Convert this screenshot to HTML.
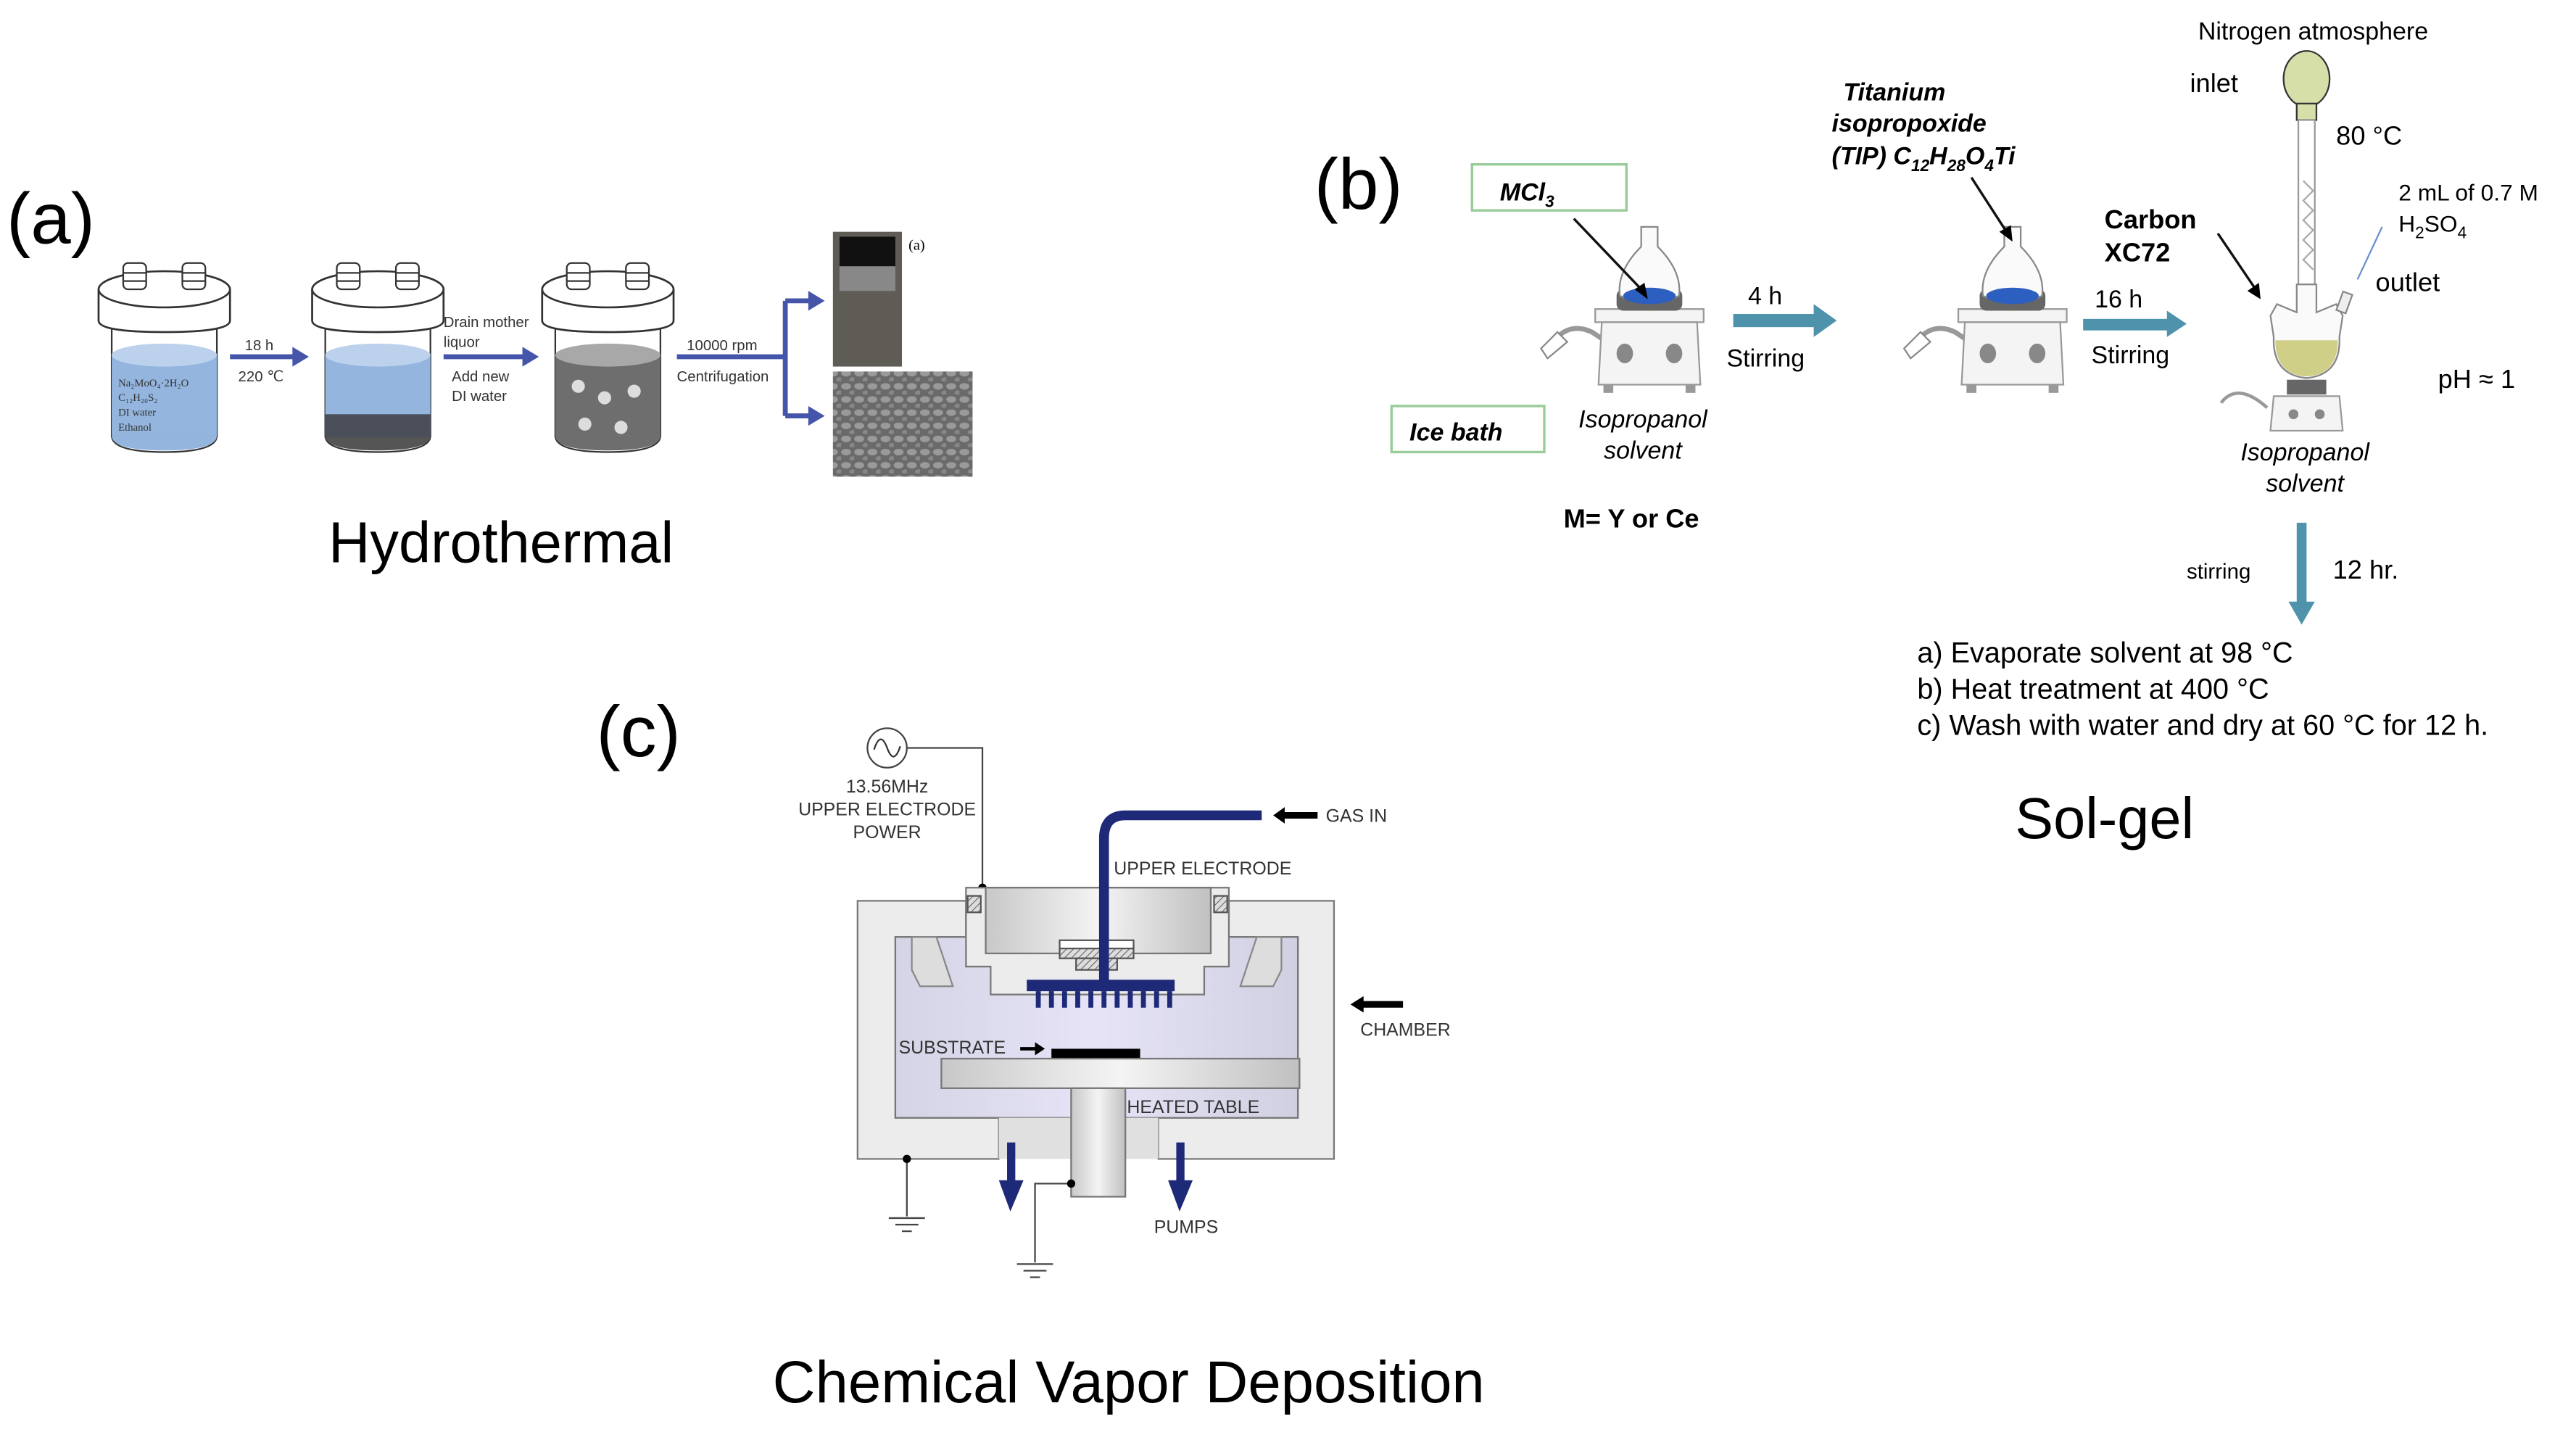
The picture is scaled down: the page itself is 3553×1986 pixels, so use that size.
<!DOCTYPE html>
<html><head><meta charset="utf-8"><style>
html,body{margin:0;padding:0;background:#fff;}
svg{display:block;}
text{font-family:"Liberation Sans",sans-serif;}
.serif{font-family:"Liberation Serif",serif;}
</style></head><body>
<svg width="3553" height="1986" viewBox="0 0 1568 876" preserveAspectRatio="none" xmlns="http://www.w3.org/2000/svg">
<defs>
<linearGradient id="metal" x1="0" x2="1"><stop offset="0" stop-color="#c8c8c8"/><stop offset="0.5" stop-color="#f4f4f4"/><stop offset="1" stop-color="#c0c0c0"/></linearGradient>
<linearGradient id="plasma" x1="0" x2="1"><stop offset="0" stop-color="#d4d4e6"/><stop offset="0.5" stop-color="#e6e4f6"/><stop offset="1" stop-color="#d0d0e2"/></linearGradient>
<pattern id="hatch" width="3" height="3" patternUnits="userSpaceOnUse" patternTransform="rotate(45)"><rect width="3" height="3" fill="#ddd"/><line x1="0" y1="0" x2="0" y2="3" stroke="#666" stroke-width="1"/></pattern>
<pattern id="sem" width="8" height="8" patternUnits="userSpaceOnUse"><rect width="8" height="8" fill="#6a6a6a"/><ellipse cx="3" cy="3" rx="3" ry="2" fill="#9a9a9a"/><ellipse cx="7" cy="7" rx="2" ry="1.5" fill="#888"/></pattern>
<g id="jar">
  <rect x="8" y="195" width="64" height="70" fill="#fff" stroke="#333" stroke-width="1"/>
  <path d="M8 265 Q8 275 40 275 Q72 275 72 265" fill="#fff" stroke="#333"/>
  <path d="M0 176 L0 195 Q0 202 40 202 Q80 202 80 195 L80 176" fill="#fff" stroke="#333" stroke-width="1.2"/>
  <ellipse cx="40" cy="176" rx="40" ry="11" fill="#fff" stroke="#333" stroke-width="1.2"/>
  <rect x="15" y="160" width="14" height="16" rx="3" fill="#fff" stroke="#333"/>
  <rect x="51" y="160" width="14" height="16" rx="3" fill="#fff" stroke="#333"/>
  <line x1="15" y1="166" x2="29" y2="166" stroke="#333"/><line x1="51" y1="166" x2="65" y2="166" stroke="#333"/>
  <line x1="15" y1="171" x2="29" y2="171" stroke="#333"/><line x1="51" y1="171" x2="65" y2="171" stroke="#333"/>
</g>
<g id="stirrer">
  <path d="M-60 60 Q-50 45 -35 52 Q-20 62 -10 68" fill="none" stroke="#999" stroke-width="3"/>
  <path d="M-66 62 L-56 52 L-50 58 L-62 68 Z" fill="#fff" stroke="#888"/>
  <rect x="-33" y="38" width="66" height="8" fill="#f4f4f4" stroke="#999"/>
  <path d="M-29 46 L29 46 L31 84 L-31 84 Z" fill="#f4f4f4" stroke="#999"/>
  <ellipse cx="-15" cy="65" rx="5" ry="6" fill="#888"/><ellipse cx="15" cy="65" rx="5" ry="6" fill="#888"/>
  <rect x="-28" y="84" width="6" height="5" fill="#999"/><rect x="22" y="84" width="6" height="5" fill="#999"/>
  <rect x="-20" y="26" width="40" height="13" rx="4" fill="#666"/>
  <path d="M-5 0 L-5 -12 L5 -12 L5 0 Q20 15 18 30 Q0 38 -18 30 Q-20 15 -5 0 Z" fill="#fafafa" stroke="#888"/>
  <ellipse cx="0" cy="30" rx="16" ry="5" fill="#2c5fc0"/>
</g>
</defs>

<!-- (a) Hydrothermal -->
<text x="4" y="148" font-size="44">(a)</text>
<use href="#jar" x="60" y="0"/>
<rect x="68" y="215" width="64" height="50" fill="#93b5de"/>
<path d="M68 265 Q68 274 100 274 Q132 274 132 265" fill="#93b5de"/>
<ellipse cx="100" cy="216" rx="32" ry="7" fill="#bcd2ec"/>
<text class="serif" x="72" y="235" font-size="6.5" fill="#333">Na₂MoO₄·2H₂O</text>
<text class="serif" x="72" y="244" font-size="6.5" fill="#333">C₁₂H₂₀S₂</text>
<text class="serif" x="72" y="253" font-size="6.5" fill="#333">DI water</text>
<text class="serif" x="72" y="262" font-size="6.5" fill="#333">Ethanol</text>
<use href="#jar" x="190" y="0"/>
<rect x="198" y="215" width="64" height="50" fill="#93b5de"/>
<path d="M198 265 Q198 274 230 274 Q262 274 262 265" fill="#555"/>
<rect x="198" y="252" width="64" height="14" fill="#4a4f5a"/>
<ellipse cx="230" cy="216" rx="32" ry="7" fill="#bcd2ec"/>
<use href="#jar" x="330" y="0"/>
<rect x="338" y="215" width="64" height="50" fill="#6e6e6e"/>
<path d="M338 265 Q338 274 370 274 Q402 274 402 265" fill="#6e6e6e"/>
<ellipse cx="370" cy="216" rx="32" ry="7" fill="#a8a8a8"/>
<g fill="#ddd"><circle cx="352" cy="235" r="4"/><circle cx="368" cy="242" r="4"/><circle cx="386" cy="238" r="4"/><circle cx="356" cy="258" r="4"/><circle cx="378" cy="260" r="4"/></g>
<g stroke="#4455aa" stroke-width="3" fill="#4455aa">
<line x1="140" y1="217" x2="180" y2="217"/><path d="M178 211 L188 217 L178 223Z" stroke="none"/>
<line x1="270" y1="217" x2="320" y2="217"/><path d="M318 211 L328 217 L318 223Z" stroke="none"/>
<line x1="412" y1="217" x2="478" y2="217"/><line x1="478" y1="183" x2="478" y2="253"/>
<line x1="478" y1="183" x2="494" y2="183"/><path d="M492 177 L502 183 L492 189Z" stroke="none"/>
<line x1="478" y1="253" x2="494" y2="253"/><path d="M492 247 L502 253 L492 259Z" stroke="none"/>
</g>
<g class="serif" font-size="9" fill="#333">
<text x="149" y="213">18 h</text><text x="145" y="232">220 ℃</text>
<text x="270" y="199">Drain mother</text><text x="270" y="211">liquor</text>
<text x="275" y="232">Add new</text><text x="275" y="244">DI water</text>
<text x="418" y="213">10000 rpm</text><text x="412" y="232">Centrifugation</text>
</g>
<rect x="507" y="141" width="42" height="82" fill="#5f5c55"/>
<rect x="511" y="144" width="34" height="18" fill="#111"/>
<rect x="511" y="162" width="34" height="15" fill="#888"/>
<text class="serif" x="553" y="152" font-size="9">(a)</text>
<rect x="507" y="226" width="85" height="64" fill="url(#sem)"/>
<text x="305" y="342" font-size="35" text-anchor="middle">Hydrothermal</text>

<!-- (b) Sol-gel -->
<text x="800" y="127" font-size="44">(b)</text>
<rect x="896" y="100" width="94" height="28" fill="#fff" stroke="#9c9" stroke-width="1.5"/>
<text x="913" y="122" font-size="15" font-weight="bold" font-style="italic">MCl<tspan font-size="10" dy="4">3</tspan></text>
<rect x="847" y="247" width="93" height="28" fill="#fff" stroke="#9c9" stroke-width="1.5"/>
<text x="858" y="268" font-size="15" font-weight="bold" font-style="italic">Ice bath</text>
<use href="#stirrer" x="1004" y="150"/>
<line x1="958" y1="133" x2="1000" y2="177" stroke="#111" stroke-width="1.5"/><path d="M995 176 L1003 182 L1001 172Z"/>
<text x="1000" y="260" font-size="15" font-style="italic" text-anchor="middle">Isopropanol</text>
<text x="1000" y="279" font-size="15" font-style="italic" text-anchor="middle">solvent</text>
<text x="993" y="321" font-size="16" font-weight="bold" text-anchor="middle">M= Y or Ce</text>
<rect x="1055" y="191" width="50" height="8" fill="#4e93ab"/><path d="M1104 185 L1118 195 L1104 205Z" fill="#4e93ab"/>
<text x="1064" y="185" font-size="15">4 h</text><text x="1051" y="223" font-size="15">Stirring</text>
<use href="#stirrer" x="1225" y="150"/>
<text x="1122" y="61" font-size="15" font-weight="bold" font-style="italic">Titanium</text>
<text x="1115" y="80" font-size="15" font-weight="bold" font-style="italic">isopropoxide</text>
<text x="1115" y="100" font-size="15" font-weight="bold" font-style="italic">(TIP)  C<tspan font-size="10" dy="4">12</tspan><tspan dy="-4">H</tspan><tspan font-size="10" dy="4">28</tspan><tspan dy="-4">O</tspan><tspan font-size="10" dy="4">4</tspan><tspan dy="-4">Ti</tspan></text>
<line x1="1200" y1="108" x2="1222" y2="142" stroke="#111" stroke-width="1.5"/><path d="M1217 141 L1225 147 L1224 137Z"/>
<rect x="1268" y="194" width="52" height="7" fill="#4e93ab"/><path d="M1319 189 L1331 197 L1319 205Z" fill="#4e93ab"/>
<text x="1275" y="187" font-size="15">16 h</text><text x="1273" y="221" font-size="15">Stirring</text>
<!-- reflux setup -->
<text x="1338" y="24" font-size="15">Nitrogen atmosphere</text>
<text x="1333" y="56" font-size="16">inlet</text>
<ellipse cx="1404" cy="48" rx="14" ry="17" fill="#d6dfa8" stroke="#333"/>
<rect x="1398" y="63" width="12" height="10" fill="#d6dfa8" stroke="#333"/>
<rect x="1399" y="73" width="10" height="100" fill="#fff" stroke="#999"/>
<path d="M1402 110 l6 6 l-6 6 l6 6 l-6 6 l6 6 l-6 6 l6 6 l-6 6 l6 6" fill="none" stroke="#aaa"/>
<text x="1422" y="88" font-size="16">80 °C</text>
<text x="1460" y="122" font-size="14">2 mL of 0.7 M</text>
<text x="1460" y="141" font-size="14">H<tspan font-size="10" dy="4">2</tspan><tspan dy="-4">SO</tspan><tspan font-size="10" dy="4">4</tspan></text>
<line x1="1450" y1="138" x2="1435" y2="170" stroke="#6a8fd0"/>
<text x="1446" y="177" font-size="16">outlet</text>
<text x="1281" y="139" font-size="16" font-weight="bold">Carbon</text>
<text x="1281" y="159" font-size="16" font-weight="bold">XC72</text>
<line x1="1350" y1="142" x2="1373" y2="176" stroke="#111" stroke-width="1.5"/><path d="M1368 177 L1376 182 L1375 172Z"/>
<path d="M1398 173 L1398 190 L1386 185 L1382 192 L1384 205 Q1383 228 1404 230 Q1425 228 1424 205 L1426 192 L1422 185 L1410 190 L1410 173Z" fill="#fafafa" stroke="#888"/>
<path d="M1385 207 Q1385 228 1404 229 Q1423 228 1423 207 Z" fill="#cfcf88"/>
<rect x="1424" y="178" width="6" height="12" fill="#eee" stroke="#888" transform="rotate(20 1427 184)"/>
<rect x="1392" y="231" width="24" height="9" fill="#666"/>
<path d="M1384 241 L1424 241 L1426 262 L1382 262 Z" fill="#f4f4f4" stroke="#999"/>
<circle cx="1396" cy="252" r="3" fill="#888"/><circle cx="1412" cy="252" r="3" fill="#888"/>
<path d="M1352 245 Q1362 232 1380 248" fill="none" stroke="#999" stroke-width="2"/>
<text x="1484" y="236" font-size="16">pH ≈ 1</text>
<text x="1403" y="280" font-size="15" font-style="italic" text-anchor="middle">Isopropanol</text>
<text x="1403" y="299" font-size="15" font-style="italic" text-anchor="middle">solvent</text>
<rect x="1398" y="318" width="6" height="50" fill="#4e93ab"/><path d="M1393 366 L1409 366 L1401 380Z" fill="#4e93ab"/>
<text x="1331" y="352" font-size="13">stirring</text>
<text x="1420" y="352" font-size="16">12 hr.</text>
<text x="1167" y="403" font-size="17.5">a)  Evaporate solvent at 98 °C</text>
<text x="1167" y="425" font-size="17.5">b)  Heat treatment at 400 °C</text>
<text x="1167" y="447" font-size="17.5">c)  Wash with water and dry at 60 °C for 12 h.</text>
<text x="1281" y="510" font-size="35" text-anchor="middle">Sol-gel</text>

<!-- (c) CVD -->
<text x="363" y="460" font-size="44">(c)</text>
<circle cx="540" cy="455" r="12" fill="#fff" stroke="#444"/>
<path d="M532 456 Q536 444 540 455 Q544 466 548 454" fill="none" stroke="#333"/>
<polyline points="552,455 598,455 598,540" fill="none" stroke="#444"/>
<circle cx="598" cy="540" r="2.5"/>
<text x="540" y="482" font-size="11" text-anchor="middle" fill="#333">13.56MHz</text>
<text x="540" y="496" font-size="11" text-anchor="middle" fill="#333">UPPER ELECTRODE</text>
<text x="540" y="510" font-size="11" text-anchor="middle" fill="#333">POWER</text>
<path d="M522 548 L588 548 L588 570 L545 570 L545 680 L608 680 L608 705 L522 705 Z" fill="#ececec" stroke="#777"/>
<path d="M748 548 L812 548 L812 705 L705 705 L705 680 L790 680 L790 570 L748 570 Z" fill="#ececec" stroke="#777"/>
<rect x="545" y="570" width="245" height="110" fill="url(#plasma)" stroke="#777"/>
<path d="M555 570 L555 590 L560 600 L580 600 L570 570 Z" fill="#ddd" stroke="#888"/>
<path d="M780 570 L780 590 L775 600 L755 600 L765 570 Z" fill="#ddd" stroke="#888"/>
<rect x="608" y="680" width="97" height="25" fill="#e0e0e0"/>
<path d="M588 540 L748 540 L748 588 L733 588 L733 605 L603 605 L603 588 L588 588 Z" fill="#ececec" stroke="#777"/>
<rect x="600" y="540" width="137" height="40" fill="url(#metal)" stroke="#777"/>
<rect x="589" y="545" width="8" height="10" fill="url(#hatch)" stroke="#555"/>
<rect x="739" y="545" width="8" height="10" fill="url(#hatch)" stroke="#555"/>
<rect x="645" y="572" width="45" height="5" fill="#fff" stroke="#555"/>
<rect x="645" y="577" width="45" height="6" fill="url(#hatch)" stroke="#555"/>
<rect x="655" y="583" width="25" height="7" fill="url(#hatch)" stroke="#555"/>
<path d="M768 496 L685 496 Q672 496 672 510 L672 598" fill="none" stroke="#1e2a78" stroke-width="6"/>
<rect x="625" y="596" width="90" height="7" fill="#1e2a78"/>
<g stroke="#1e2a78" stroke-width="3"><line x1="632" y1="603" x2="632" y2="613"/><line x1="640" y1="603" x2="640" y2="613"/><line x1="648" y1="603" x2="648" y2="613"/><line x1="656" y1="603" x2="656" y2="613"/><line x1="664" y1="603" x2="664" y2="613"/><line x1="672" y1="603" x2="672" y2="613"/><line x1="680" y1="603" x2="680" y2="613"/><line x1="688" y1="603" x2="688" y2="613"/><line x1="696" y1="603" x2="696" y2="613"/><line x1="704" y1="603" x2="704" y2="613"/><line x1="712" y1="603" x2="712" y2="613"/></g>
<rect x="640" y="638" width="54" height="6" fill="#000"/>
<rect x="573" y="644" width="218" height="18" fill="url(#metal)" stroke="#777"/>
<rect x="652" y="662" width="33" height="66" fill="url(#metal)" stroke="#777"/>
<text x="547" y="641" font-size="11" fill="#333">SUBSTRATE</text>
<path d="M621 637 L630 637 L630 634 L636 638 L630 642 L630 639 L621 639Z"/>
<text x="686" y="677" font-size="11" fill="#333">HEATED TABLE</text>
<text x="678" y="532" font-size="11" fill="#333">UPPER ELECTRODE</text>
<path d="M775 496 L782 491 L782 494 L802 494 L802 498 L782 498 L782 501Z"/>
<text x="807" y="500" font-size="11" fill="#333">GAS IN</text>
<path d="M822 611 L830 606 L830 609 L854 609 L854 613 L830 613 L830 616Z"/>
<text x="828" y="630" font-size="11" fill="#333">CHAMBER</text>
<g fill="#1e2a78"><rect x="613" y="695" width="5" height="25"/><path d="M608 718 L623 718 L615 737Z"/><rect x="716" y="695" width="5" height="25"/><path d="M711 718 L726 718 L718 737Z"/></g>
<text x="722" y="750" font-size="11" text-anchor="middle" fill="#333">PUMPS</text>
<g stroke="#444" fill="none"><polyline points="552,705 552,740"/><line x1="541" y1="741" x2="563" y2="741"/><line x1="545" y1="745" x2="559" y2="745"/><line x1="549" y1="749" x2="555" y2="749"/>
<polyline points="652,720 630,720 630,768"/><line x1="619" y1="769" x2="641" y2="769"/><line x1="623" y1="773" x2="637" y2="773"/><line x1="627" y1="777" x2="633" y2="777"/></g>
<circle cx="552" cy="705" r="2.5"/><circle cx="652" cy="720" r="2.5"/>
<text x="687" y="853" font-size="36" text-anchor="middle">Chemical Vapor Deposition</text>
</svg>
</body></html>
